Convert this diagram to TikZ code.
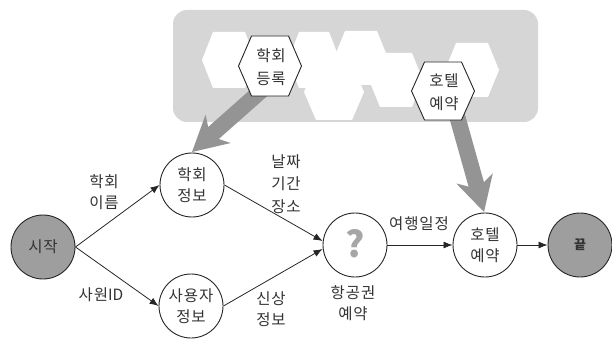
\documentclass[tikz,border=0pt]{standalone}
\usepackage{fontspec}
\setmainfont[LetterSpace=6]{Noto Sans CJK KR}
\usetikzlibrary{arrows.meta}
\newcommand\hexat[6]{\path[#1] (#2-#4,#3) -- (#2-#4+#6,#3-#5) -- (#2+#4-#6,#3-#5) -- (#2+#4,#3) -- (#2+#4-#6,#3+#5) -- (#2-#4+#6,#3+#5) -- cycle;}
\begin{document}
\begin{tikzpicture}[x=1pt,y=-1pt,
  txt/.style={font=\fontsize{15.5}{20.5}\selectfont, text=black!80, align=center, inner sep=0pt},
  state/.style={circle, draw=black!85, line width=0.9pt, minimum size=64pt, inner sep=0pt, fill=white, txt},
  term/.style={state, fill=black!38},
  flow/.style={draw=black!85, line width=0.8pt, -{Latex[length=9pt,width=7pt]}},
  big/.style={draw=black!42, line width=16pt, -{Stealth[length=35pt,width=38pt,inset=11pt,line width=0pt]}},
  plainhex/.style={fill=white},
  taskhex/.style={fill=white, draw=black!85, line width=0.9pt, line join=round},
  hextxt/.style={txt, font=\fontsize{15.5}{23}\selectfont}
]
\useasboundingbox (0,0) rectangle (612,339);
% background panel
\fill[black!16, rounded corners=14pt] (173,10) rectangle (538,122);
% plain hexagons
\hexat{plainhex}{229}{60}{27}{28}{11}
\hexat{plainhex}{314}{60}{26}{28}{11}
\hexat{plainhex}{361}{58}{27}{27}{11}
\hexat{plainhex}{334}{92}{30}{28}{12}
\hexat{plainhex}{396}{80}{27}{27}{11}
\hexat{plainhex}{472}{70}{27}{27}{11}
% big gray arrows
\coordinate (regfoot) at (262,90);
\coordinate (hotfoot) at (452,98);
\coordinate (infotop) at (192,152);
\coordinate (hoteltop) at (484,212);
\draw[big] (regfoot) -- (infotop);
\draw[big] (hotfoot) -- (hoteltop);
% task hexagons
\hexat{taskhex}{270}{66}{31.5}{30}{13}
\hexat{taskhex}{443}{91}{31.5}{29}{13}
\node[hextxt] (reg) at (271,67) {학회\\등록};
\node[hextxt] (hot) at (444,92) {호텔\\예약};
% states
\node[term] (start) at (43,247) {시작};
\node[state] (info) at (192,185) {학회\\정보};
\node[state] (user) at (191,306) {사용자\\정보};
\node[state] (air) at (355,245) {};
\node[font=\fontsize{36}{36}\selectfont\bfseries, text=black!35, inner sep=0pt] (qm) at (355,244) {?};
\node[state] (hotel) at (485,245) {호텔\\예약};
\node[term, font=\fontsize{13}{16}\selectfont\bfseries] (end) at (580,245) {끝};
% connectors
\draw[flow] (start.east) -- (info.west);
\draw[flow] (start.east) -- (user.west);
\draw[flow] (info.east) -- ([yshift=4pt]air.west);
\draw[flow] (user.east) -- ([yshift=-4pt]air.west);
\draw[flow] (air.east) -- (hotel.west);
\draw[flow] (hotel.east) -- (end.west);
% labels
\node[txt] (l1) at (104,192) {학회\\이름};
\node[txt] (l2) at (101,295) {사원{\addfontfeature{LetterSpace=0}ID}};
\node[txt, font=\fontsize{15.5}{22.5}\selectfont] (l3) at (286,184) {날짜\\기간\\장소};
\node[txt] (l4) at (271,309) {신상\\정보};
\node[txt] (l5) at (419,224) {여행일정};
\node[txt] (l6) at (353,303) {항공권\\예약};
\end{tikzpicture}
\end{document}
